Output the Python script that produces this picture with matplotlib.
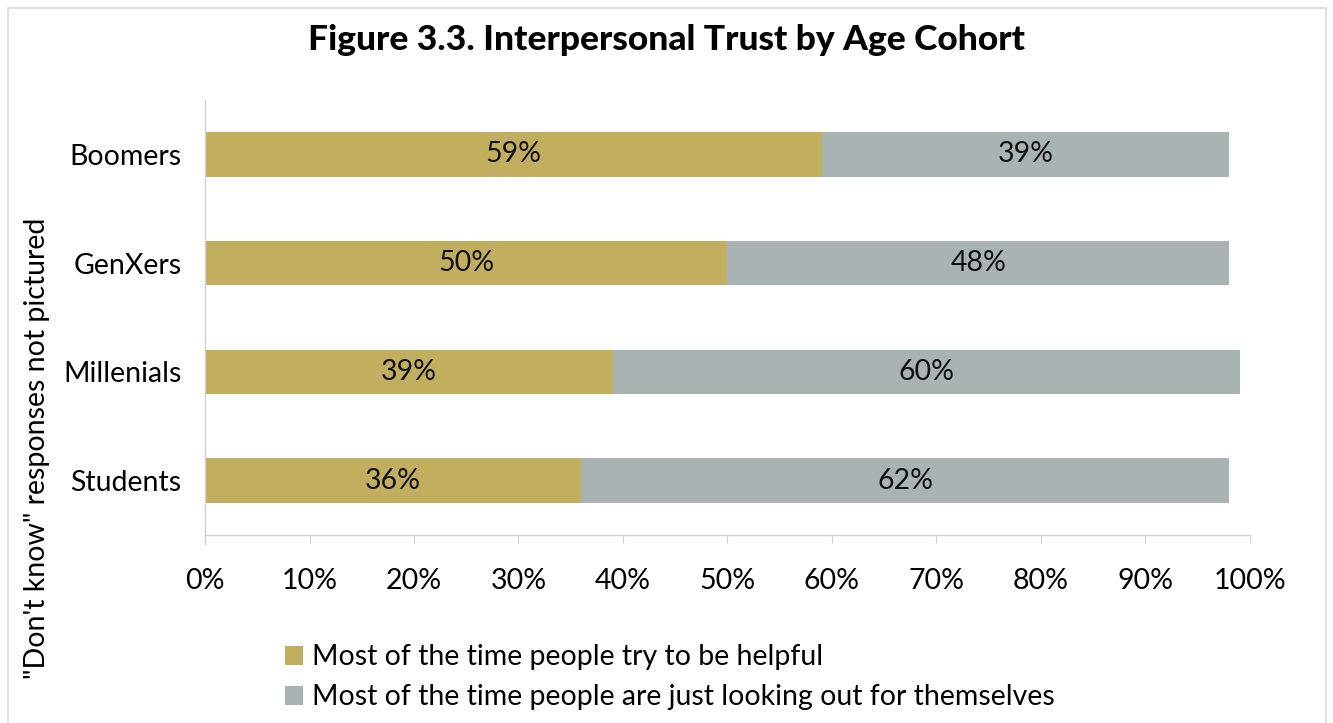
import matplotlib.pyplot as plt
from matplotlib.patches import Rectangle
import numpy as np

# survey shares by age cohort (top to bottom)
cohorts = ["Boomers", "GenXers", "Millenials", "Students"]
helpful = [59, 50, 39, 36]
themselves = [39, 48, 60, 62]
series_names = [
    "Most of the time people try to be helpful",
    "Most of the time people are just looking out for themselves",
]
x_ticks = list(range(0, 101, 10))

GOLD = "#C2AE5F"
GREY = "#A9B3B3"
AXIS = "#D0D0D0"
FS = 20.5

plt.rcParams["font.family"] = ["Lato", "DejaVu Sans"]

fig = plt.figure(figsize=(13.33, 7.23), dpi=100)
ax = fig.add_axes([0.1538, 0.26, 0.7839, 0.6017])

# light frame round the whole figure (bottom edge runs off the canvas)
fig.patches.append(Rectangle((0.006, -0.05), 0.989, 1.039, transform=fig.transFigure,
                             fill=False, edgecolor="#DADADA", lw=1.2))

y = np.arange(len(cohorts))
h = 0.41
b1 = ax.barh(y, helpful, height=h, color=GOLD, label=series_names[0])
b2 = ax.barh(y, themselves, left=helpful, height=h, color=GREY, label=series_names[1])

for bars, vals in ((b1, helpful), (b2, themselves)):
    ax.bar_label(bars, labels=[f"{v}%" for v in vals], label_type="center",
                 fontsize=FS, color="#111111")

ax.set_ylim(3.5, -0.5)
ax.set_yticks(y)
ax.set_yticklabels(cohorts, fontsize=FS)
ax.set_xlim(0, 100)
ax.set_xticks(x_ticks)
ax.set_xticklabels([f"{t}%" for t in x_ticks], fontsize=FS)

for side in ("top", "right"):
    ax.spines[side].set_visible(False)
for side in ("left", "bottom"):
    ax.spines[side].set_color(AXIS)
    ax.spines[side].set_linewidth(1.0)
ax.spines["left"].set_bounds(3.58, -0.5)
ax.tick_params(axis="x", length=6, color=AXIS, pad=18)
ax.tick_params(axis="y", length=0, pad=17)

fig.text(0.5, 0.945, "Figure 3.3. Interpersonal Trust by Age Cohort",
         ha="center", va="center", fontsize=25.5, fontweight="black")
fig.text(0.028, 0.38, "\"Don't know\" responses not pictured", rotation=90,
         ha="center", va="center", fontsize=FS)

fig.legend(handles=[b1, b2], loc="upper left", bbox_to_anchor=(0.205, 0.125),
           frameon=False, fontsize=FS, handlelength=0.65, handleheight=0.65,
           handletextpad=0.3, labelspacing=0.5, borderaxespad=0)

fig.savefig("out.png", dpi=100)
